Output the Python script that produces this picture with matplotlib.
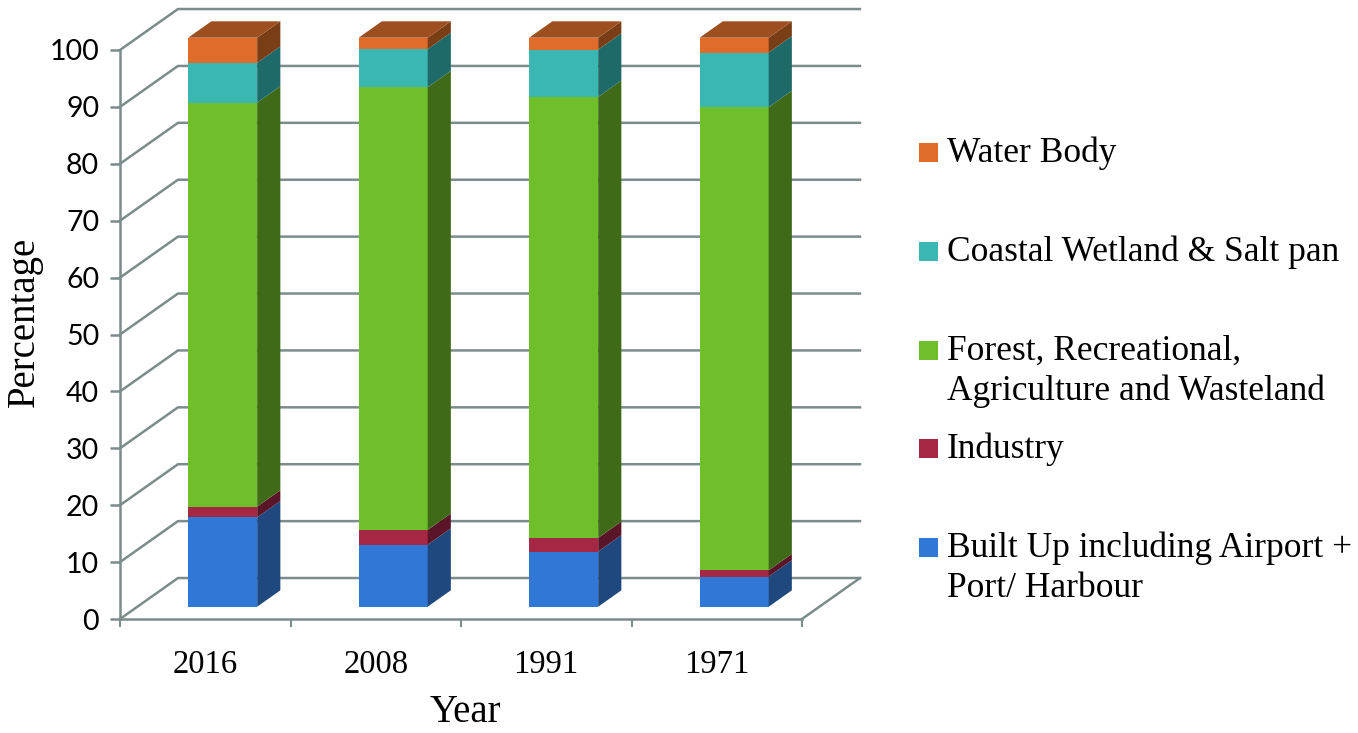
import matplotlib
matplotlib.use("Agg")
import matplotlib.pyplot as plt
from matplotlib.patches import Polygon, Rectangle

# data (percentage of area)
years = ["2016", "2008", "1991", "1971"]
built_up = [15.7, 10.9, 9.7, 5.3]
industry = [1.9, 2.6, 2.4, 1.1]
forest = [71.0, 77.8, 77.5, 81.4]
wetland = [7.0, 6.7, 8.3, 9.6]
water = [4.4, 2.0, 2.1, 2.6]
labels = ["Built Up including Airport +\nPort/ Harbour", "Industry",
          "Forest, Recreational,\nAgriculture and Wasteland",
          "Coastal Wetland & Salt pan", "Water Body"]
y_ticks = list(range(0, 101, 10))

series = [built_up, industry, forest, wetland, water]
front_colors = ["#3178d6", "#a42843", "#6ebf2a", "#3ab7b3", "#e06c2b"]
side_colors = ["#1f487f", "#5a1628", "#3f6b18", "#1e6a68", "#7a3e16"]
top_color = "#9e4f1f"
grid_c = "#7c8c8b"

SERIF = "Liberation Serif"
SANS = "Lato"

W, H = 1358, 733
fig = plt.figure(figsize=(W / 100, H / 100), dpi=100)
ax = fig.add_axes([120 / W, 114 / H, 682 / W, 569 / H])
ax.set_xlim(-0.5, len(years) - 0.5)
ax.set_ylim(0, 100)

# fake 3d: back wall offset in data units, bars sit between depth 0.3 and 0.7
depth_dx, depth_dy = 0.34, 7.2
bar_w = 0.405
z0, z1 = 0.3, 0.7

x0, x1 = ax.get_xlim()
for v in y_ticks:
    ax.plot([x0, x0 + depth_dx, x1 + depth_dx], [v, v + depth_dy, v + depth_dy],
            color=grid_c, lw=1.8, clip_on=False, zorder=1)
ax.plot([x1, x1 + depth_dx], [0, depth_dy], color=grid_c, lw=1.8, clip_on=False, zorder=1)

ox, oy = z0 * depth_dx, z0 * depth_dy
sx, sy = (z1 - z0) * depth_dx, (z1 - z0) * depth_dy
xs = [i + ox for i in range(len(years))]
bottoms = [oy] * len(years)
for k, vals in enumerate(series):
    ax.bar(xs, vals, width=bar_w, bottom=bottoms, color=front_colors[k],
           linewidth=0, clip_on=False, zorder=3)
    for i in range(len(years)):
        r = xs[i] + bar_w / 2
        b, t = bottoms[i], bottoms[i] + vals[i]
        ax.add_patch(Polygon([(r, b), (r + sx, b + sy), (r + sx, t + sy), (r, t)],
                             closed=True, fc=side_colors[k], ec="none",
                             clip_on=False, zorder=3))
    bottoms = [b + v for b, v in zip(bottoms, vals)]

# top faces
for i in range(len(years)):
    l, r = xs[i] - bar_w / 2, xs[i] + bar_w / 2
    t = bottoms[i]
    ax.add_patch(Polygon([(l, t), (l + sx, t + sy), (r + sx, t + sy), (r, t)],
                         closed=True, fc=top_color, ec="none", clip_on=False, zorder=3))

for s in ["top", "right"]:
    ax.spines[s].set_visible(False)
for s in ["left", "bottom"]:
    ax.spines[s].set_color(grid_c)
    ax.spines[s].set_linewidth(1.8)

ax.set_yticks(y_ticks)
ax.set_yticklabels([str(v) for v in y_ticks], fontfamily=SANS, fontsize=20.5)
ax.tick_params(axis="y", length=7, width=1.8, color=grid_c, pad=8)

ax.set_xticks(range(len(years)))
ax.set_xticklabels(years, fontfamily=SERIF, fontsize=23.5)
ax.set_xticks([i - 0.5 for i in range(len(years) + 1)], minor=True)
ax.tick_params(axis="x", which="major", length=0, pad=22)
ax.tick_params(axis="x", which="minor", length=6, width=1.5, color=grid_c)

fig.text(465 / W, 1 - 722 / H, "Year", ha="center", va="baseline",
         fontfamily=SERIF, fontsize=28)
fig.text(24 / W, 1 - 322 / H, "Percentage", ha="center", va="center",
         rotation=90, fontfamily=SERIF, fontsize=28)

# legend, top entry is the top of the stack
for k in range(len(series)):
    idx = len(series) - 1 - k
    base = 162 + k * 98.75
    fig.patches.append(Rectangle((919 / W, 1 - base / H), 19 / W, 19 / H,
                                 transform=fig.transFigure,
                                 fc=front_colors[idx], ec="none"))
    for j, line in enumerate(labels[idx].split("\n")):
        fig.text(947 / W, 1 - (base + 40 * j) / H, line, ha="left", va="baseline",
                 fontfamily=SERIF, fontsize=25.5)

fig.savefig("out.png", dpi=100)
